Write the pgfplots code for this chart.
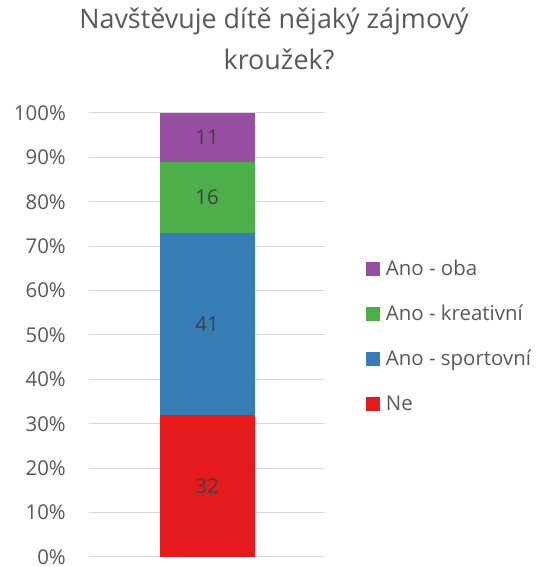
\documentclass[border=0pt]{standalone}
\usepackage{fontspec}
\setmainfont{Open Sans}
\usepackage{pgfplots}
\pgfplotsset{compat=1.18}
\definecolor{cRed}{HTML}{E41A1C}
\definecolor{cBlue}{HTML}{377EB8}
\definecolor{cGreen}{HTML}{4DAF4A}
\definecolor{cPurple}{HTML}{984EA3}
\definecolor{textgray}{HTML}{595959}
\definecolor{labelgray}{HTML}{404040}
\definecolor{gridgray}{HTML}{D9D9D9}
\begin{document}
\begin{tikzpicture}
\path[use as bounding box] (0,0) rectangle (539bp,567bp);
\begin{axis}[
  at={(89bp,10bp)}, anchor=south west,
  scale only axis, width=236bp, height=444bp,
  ybar stacked, bar width=95bp,
  xmin=-1, xmax=1, ymin=0, ymax=100,
  xtick=\empty,
  ytick={0,10,...,100},
  /pgf/number format/assume math mode=true,
  yticklabel={\pgfmathprintnumber{\tick}\%},
  ymajorgrids, grid style={color=gridgray, line width=1bp},
  axis line style={draw=none},
  major tick length=0pt,
  tick label style={font=\fontsize{20.5}{24}\selectfont, text=textgray},
  yticklabel style={anchor=east, inner sep=0pt, xshift=-23bp},
  reverse legend,
  legend style={at={(1.1737,0.6655)}, anchor=north west, draw=none, fill=none,
    inner sep=0pt, outer sep=0pt, row sep=27bp, column sep=6bp,
    font=\fontsize{20.5}{24}\selectfont, text=textgray,
    nodes={inner sep=0pt, anchor=base west, text height=14bp, text depth=4bp}},
  legend image code/.code={\fill[#1] (0bp,0bp) rectangle (14bp,14bp);},
  nodes near coords,
  every node near coord/.append style={font=\fontsize{20.5}{24}\selectfont, text=labelgray, anchor=center},
]
\addplot[fill=cRed, draw=none] coordinates {(0,32)};
\addplot[fill=cBlue, draw=none] coordinates {(0,41)};
\addplot[fill=cGreen, draw=none] coordinates {(0,16)};
\addplot[fill=cPurple, draw=none] coordinates {(0,11)};
\legend{Ne, Ano - sportovní, Ano - kreativní, Ano - oba}
\end{axis}
\node[anchor=base, font=\fontsize{27}{32}\selectfont, text=textgray] at (274bp,538bp) {Navštěvuje dítě nějaký zájmový};
\node[anchor=base, font=\fontsize{27}{32}\selectfont, text=textgray] at (279bp,497bp) {kroužek?};
\end{tikzpicture}
\end{document}
